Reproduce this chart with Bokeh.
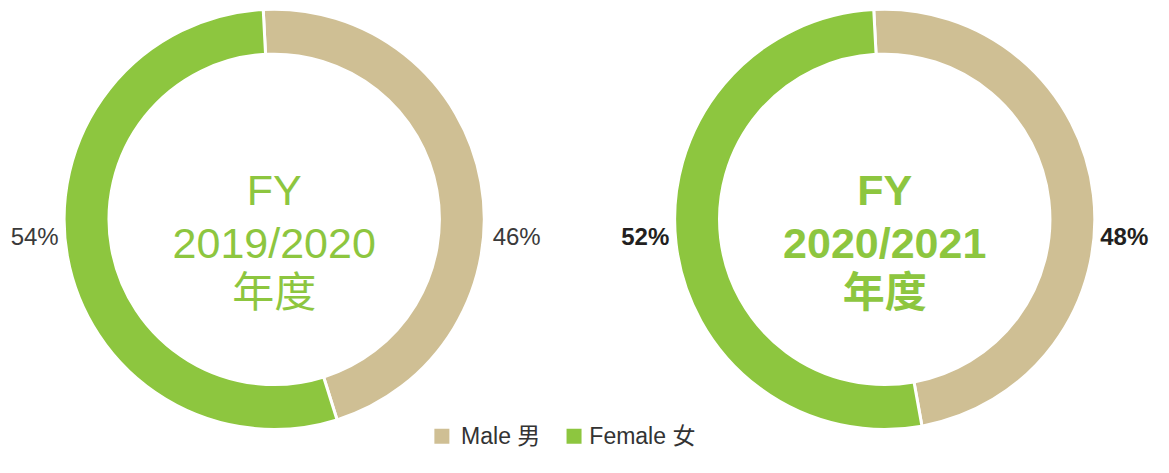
import numpy as np
from bokeh.plotting import figure
from bokeh.models import Range1d, ColumnDataSource
from bokeh.core.properties import value
from bokeh.embed import file_html
from bokeh.resources import INLINE

# ---- data ----
years = ["2019/2020", "2020/2021"]
center_label = ["FY", "年度"]
categories = ["Male 男", "Female 女"]
male = [46, 48]
female = [54, 52]
colors = ["#CFBF94", "#8DC63F"]

# ---- layout ----
W, H = 1153, 457
REF_W, REF_H = 1169, 473
FONT = "Liberation Sans, Noto Sans CJK TC, sans-serif"


def Y(ry):
    # convert reference-pixel y (from top) to data y
    return REF_H - ry


p = figure(width=W, height=H, x_range=Range1d(0, REF_W), y_range=Range1d(0, REF_H),
           output_backend="svg", toolbar_location=None, min_border=0)
p.axis.visible = False
p.grid.visible = False
p.outline_line_color = None

centers_x = [277.5, 896.5]
center_y = Y(226.5)
R_OUT, R_IN = 213.0, 167.5
offset = np.deg2rad(3.0)

for i, yr in enumerate(years):
    vals = [male[i], female[i]]
    total = sum(vals)
    fr = np.cumsum([0] + vals) / total
    starts = np.pi / 2 + offset - 2 * np.pi * fr[:-1]
    ends = np.pi / 2 + offset - 2 * np.pi * fr[1:]
    src = ColumnDataSource(dict(x=[centers_x[i]] * 2, y=[center_y] * 2,
                                start=list(starts), end=list(ends), color=colors,
                                cat=categories))
    p.annular_wedge(x="x", y="y", inner_radius=R_IN, outer_radius=R_OUT,
                    start_angle="start", end_angle="end", direction="clock",
                    fill_color="color", line_color="white", line_width=3, source=src)

    weight = "normal" if i == 0 else "bold"
    cx = centers_x[i]
    p.text(x=[cx], y=[Y(196)], text=[center_label[0]], text_align="center",
           text_baseline="alphabetic", text_color="#8DC63F", text_font_size="43px",
           text_font=value(FONT), text_font_style=weight)
    p.text(x=[cx], y=[Y(251)], text=[yr], text_align="center",
           text_baseline="alphabetic", text_color="#8DC63F", text_font_size="43px",
           text_font=value(FONT), text_font_style=weight)
    p.text(x=[cx], y=[Y(302)], text=[center_label[1]], text_align="center",
           text_baseline="alphabetic", text_color="#8DC63F", text_font_size="42px",
           text_font=value(FONT), text_font_style=weight)

    lab_col = "#3A3A3A" if i == 0 else "#231F20"
    # female label on the left, male label on the right
    left_x = [59, 678][i]
    right_x = [499, 1115][i]
    p.text(x=[left_x], y=[Y(244)], text=[f"{female[i]}%"], text_align="right",
           text_baseline="alphabetic", text_color=lab_col, text_font_size="24px",
           text_font=value(FONT), text_font_style=weight)
    p.text(x=[right_x], y=[Y(244)], text=[f"{male[i]}%"], text_align="left",
           text_baseline="alphabetic", text_color=lab_col, text_font_size="24px",
           text_font=value(FONT), text_font_style=weight)

# ---- legend ----
leg_sq_x = [447.5, 581.5]
leg_tx_x = [467, 597]
leg_y = 451
p.scatter(x=leg_sq_x, y=[Y(leg_y)] * 2, marker="square", size=15,
          fill_color=colors, line_color=None)
p.text(x=leg_tx_x, y=[Y(leg_y)] * 2, text=categories, text_align="left",
       text_baseline="middle", text_color="#333333", text_font_size="23px",
       text_font=value(FONT))

open("out.html", "w").write(file_html(p, INLINE))
